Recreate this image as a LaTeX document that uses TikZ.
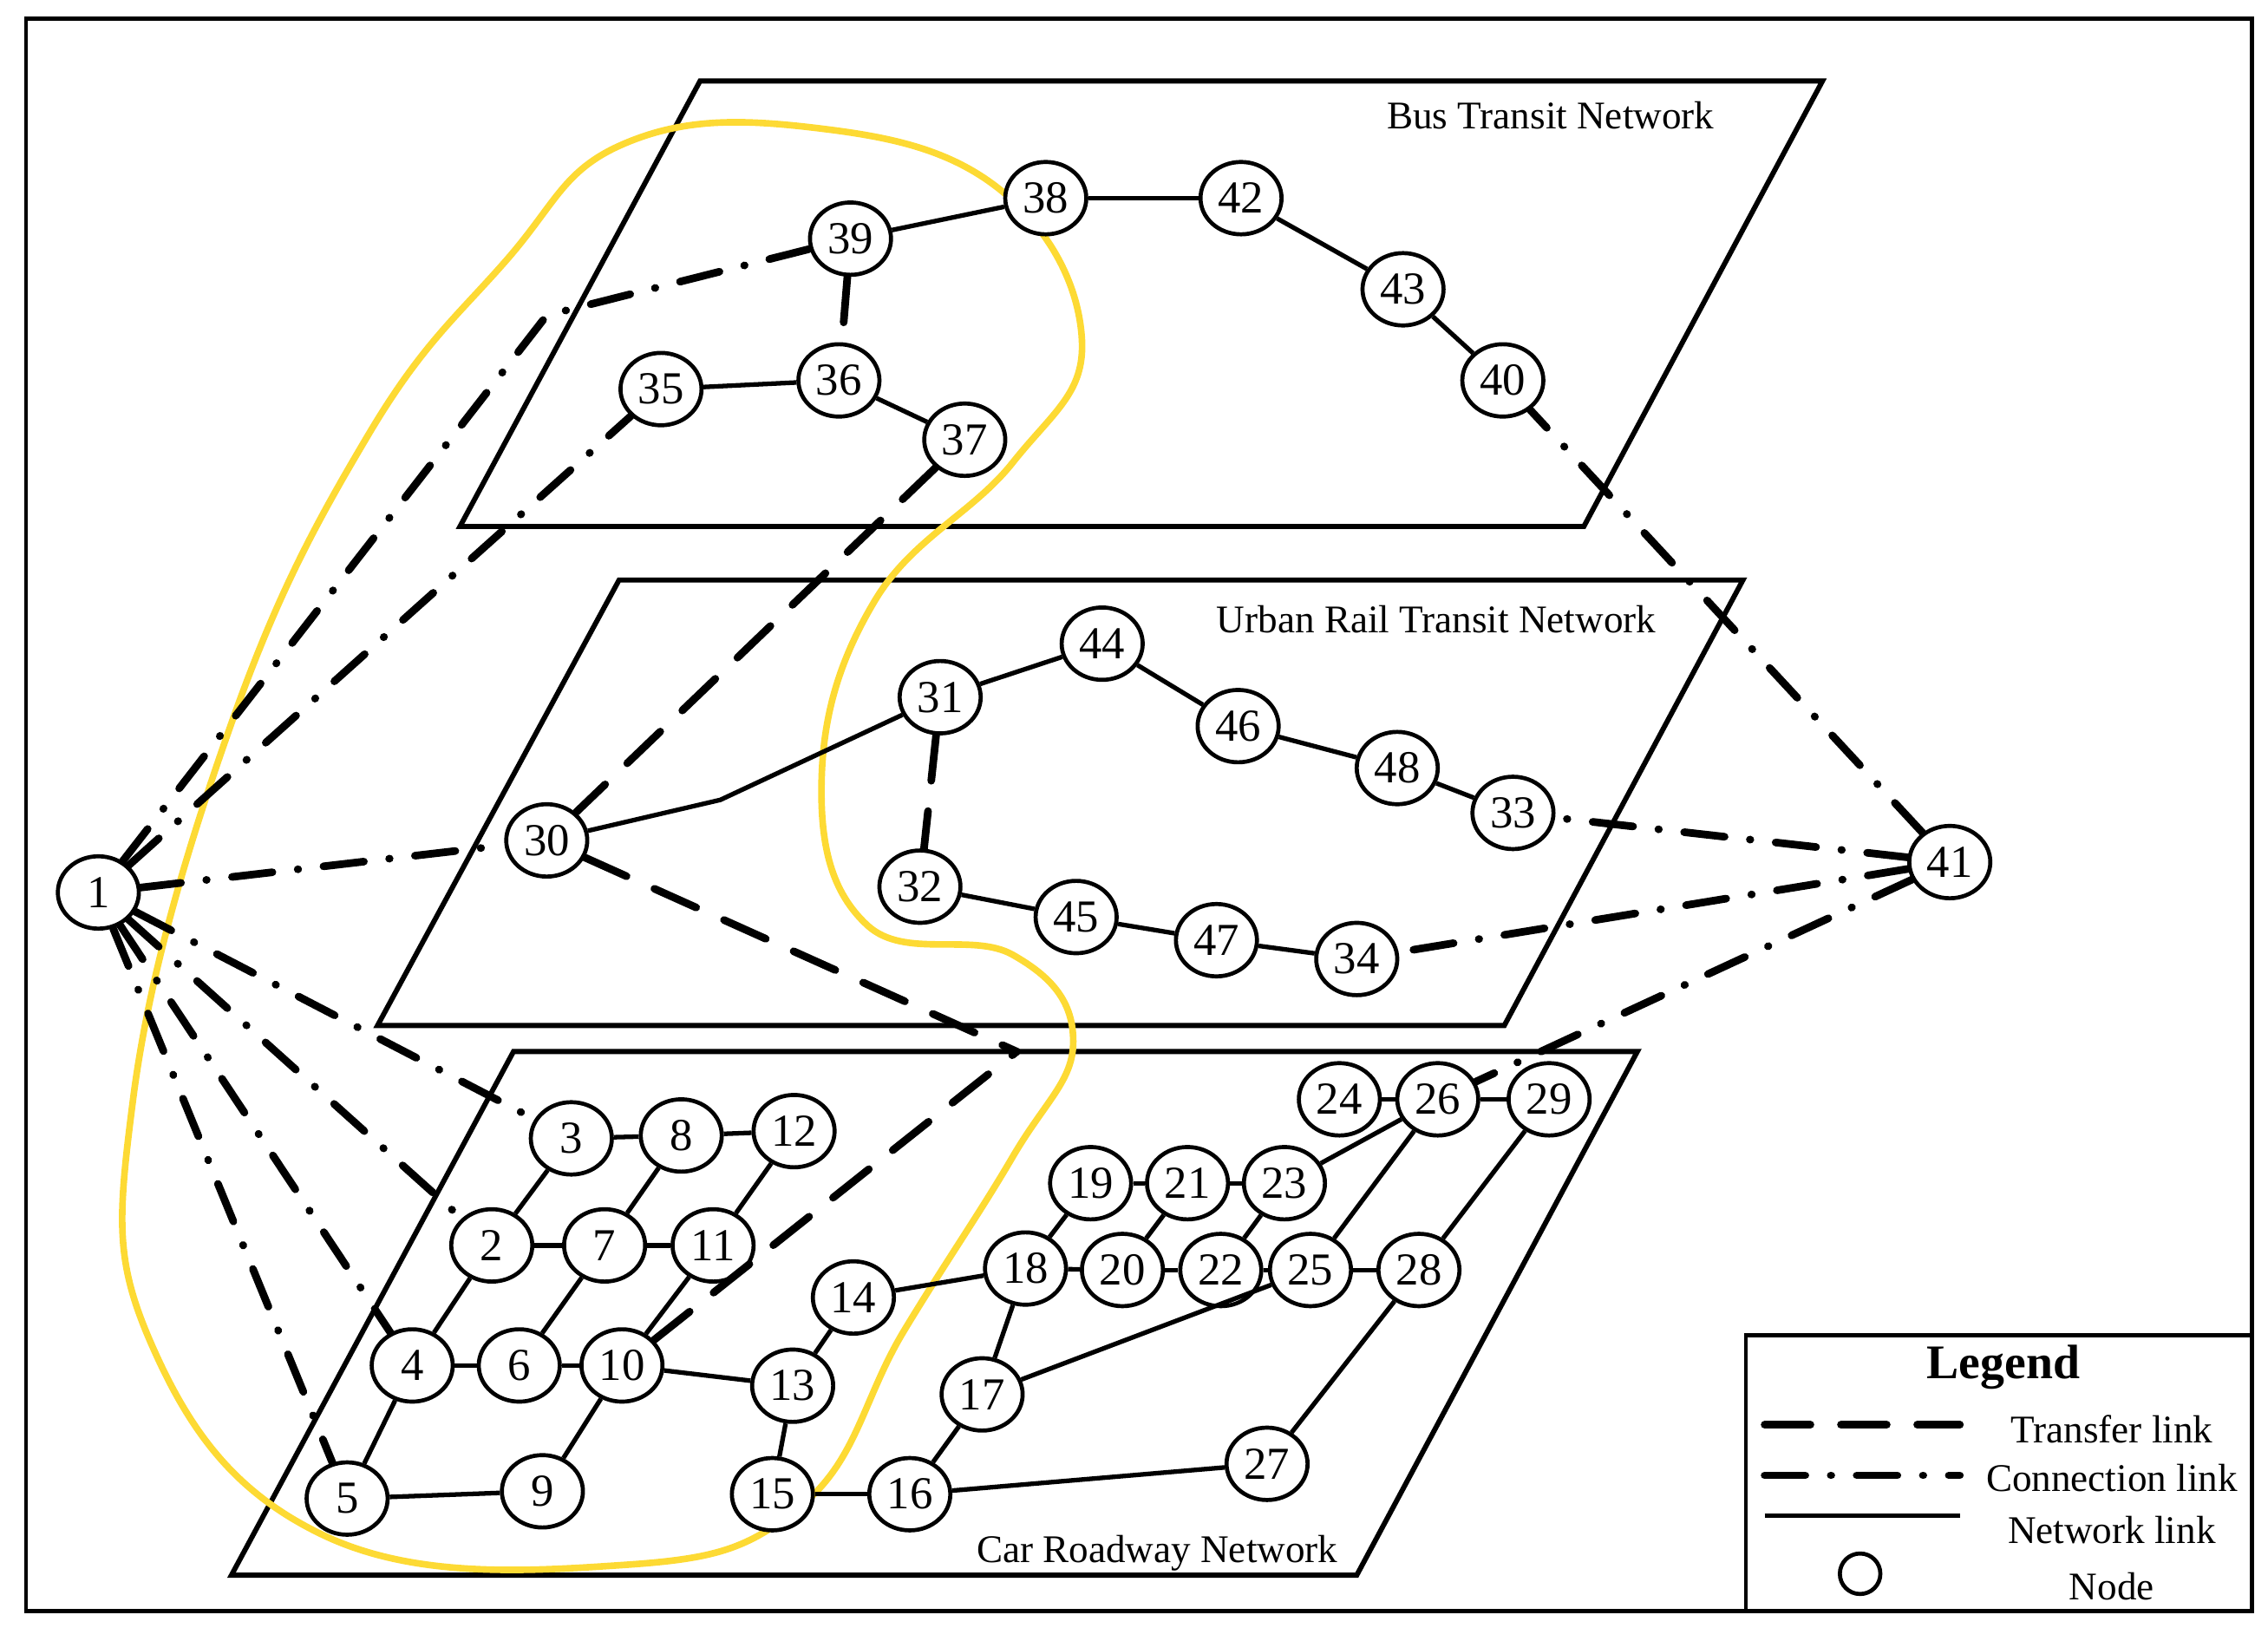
\documentclass[tikz,border=0pt]{standalone}
\usepackage{fontspec}
\setmainfont{Liberation Serif}
\usetikzlibrary{shapes.geometric}
\begin{document}
\begin{tikzpicture}[x=0.01cm,y=-0.01cm,
        nd/.style={ellipse,draw,thick,inner sep=0pt,minimum width=0.56cm,
          minimum height=0.5cm,font=\fontsize{9}{9}\selectfont},
        netlink/.style={line width=0.9pt},
        transfer/.style={line width=1.5pt,line cap=round,dash pattern=on 9pt off 6pt},
        connect/.style={line width=1.5pt,line cap=round,dash pattern=on 8pt off 5pt on 0.1pt off 5pt},
        plane/.style={line width=1pt},
        lbl/.style={font=\fontsize{7.7}{8}\selectfont}]
      \useasboundingbox (0,0) rectangle (1568,1134);
      \draw[line width=0.8pt] (18,13) rectangle (1557,1114);
      % layers
      \draw[plane] (484,56) -- (1260,56) -- (1095,364) -- (318,364) -- cycle;
      \draw[plane] (428,401) -- (1205,401) -- (1040,709) -- (261,709) -- cycle;
      \draw[plane] (355,727) -- (1132,727) -- (938,1089) -- (160,1089) -- cycle;
      \node[lbl] (busname) at (1072,80) {Bus Transit Network};
      \node[lbl] (railname) at (993,428) {Urban Rail Transit Network};
      \node[lbl] (carname) at (800,1074) {Car Roadway Network};
      % region
      \draw[yellow!70!orange!80,line width=1.3pt] plot[smooth cycle,tension=0.7] coordinates {
        (430,100) (560,88) (690,130) (748,235) (700,320) (605,415) (568,540)
        (600,640) (700,660) (742,720) (700,800) (625,920) (555,1040) (430,1082)
        (225,1062) (105,930) (92,760) (160,500) (255,300) (350,180)};
      % nodes
      \foreach \n/\x/\y in {1/68/617,41/1348/596,
          39/588/165,38/723/137,42/858/137,43/970/200,40/1039/263,35/457/269,36/580/263,37/667/304,
          30/378/581,31/650/482,44/762/445,46/856/502,48/966/531,33/1046/562,32/636/613,45/744/634,47/841/650,34/938/663,
          3/395/787,8/471/785,12/549/782,2/340/861,7/418/861,11/493/861,4/285/944,6/359/944,10/430/944,
          5/240/1036,9/375/1031,13/548/958,14/590/897,15/534/1033,16/629/1033,17/679/964,18/709/877,
          19/754/818,20/776/878,21/821/818,22/844/878,23/888/818,24/926/760,25/906/878,26/994/760,
          29/1071/760,28/981/878,27/876/1012}
        \node[nd,fill=white] (n\n) at (\x,\y) {\n};
      \coordinate (bend39) at (378,218);
      \coordinate (bend30) at (498,553);
      \coordinate (meet) at (703,727);
      % network links
      \foreach \a/\b in {39/38,38/42,42/43,43/40,35/36,36/37,31/44,44/46,46/48,48/33,32/45,45/47,47/34,
          3/8,8/12,2/7,7/11,4/6,6/10,5/9,3/2,2/4,4/5,8/7,7/6,12/11,11/10,10/9,10/13,13/14,13/15,15/16,
          14/18,18/20,20/22,22/25,25/28,19/21,21/23,24/26,26/29,18/19,18/17,17/16,16/27,27/28,28/29,
          17/25,20/21,22/23,23/26,25/26}
        \draw[netlink] (n\a) -- (n\b);
      \draw[netlink] (n30) -- (bend30) -- (n31);
      % transfer links
      \draw[transfer] (n39) -- (n36);
      \draw[transfer] (n31) -- (n32);
      \draw[transfer] (n37) -- (n30);
      \draw[transfer] (n30) -- (meet);
      \draw[transfer] (n10) -- (meet);
      % connection links
      \draw[connect] (n1) -- (bend39) -- (n39);
      \foreach \t in {35,30,3,2,4,5}
        \draw[connect] (n1) -- (n\t);
      \foreach \t in {40,33,34,26}
        \draw[connect] (n41) -- (n\t);
      % legend
      \draw[line width=0.8pt] (1207,923) rectangle (1557,1114);
      \node[font=\fontsize{9.5}{10}\selectfont\bfseries] (legtitle) at (1385,945) {Legend};
      \coordinate (la) at (1220,985); \coordinate (lb) at (1355,985);
      \draw[transfer] (la) -- (lb);
      \node[lbl] (ltr) at (1460,988) {Transfer link};
      \coordinate (lc) at (1220,1020); \coordinate (ld) at (1355,1020);
      \draw[connect] (lc) -- (ld);
      \node[lbl] (lco) at (1460,1022) {Connection link};
      \coordinate (le) at (1220,1048); \coordinate (lf) at (1355,1048);
      \draw[netlink] (le) -- (lf);
      \node[lbl] (lne) at (1460,1058) {Network link};
      \node[circle,draw,thick,minimum size=0.28cm,inner sep=0pt] (lnode) at (1286,1088) {};
      \node[lbl] (lno) at (1460,1097) {Node};
\end{tikzpicture}
\end{document}
